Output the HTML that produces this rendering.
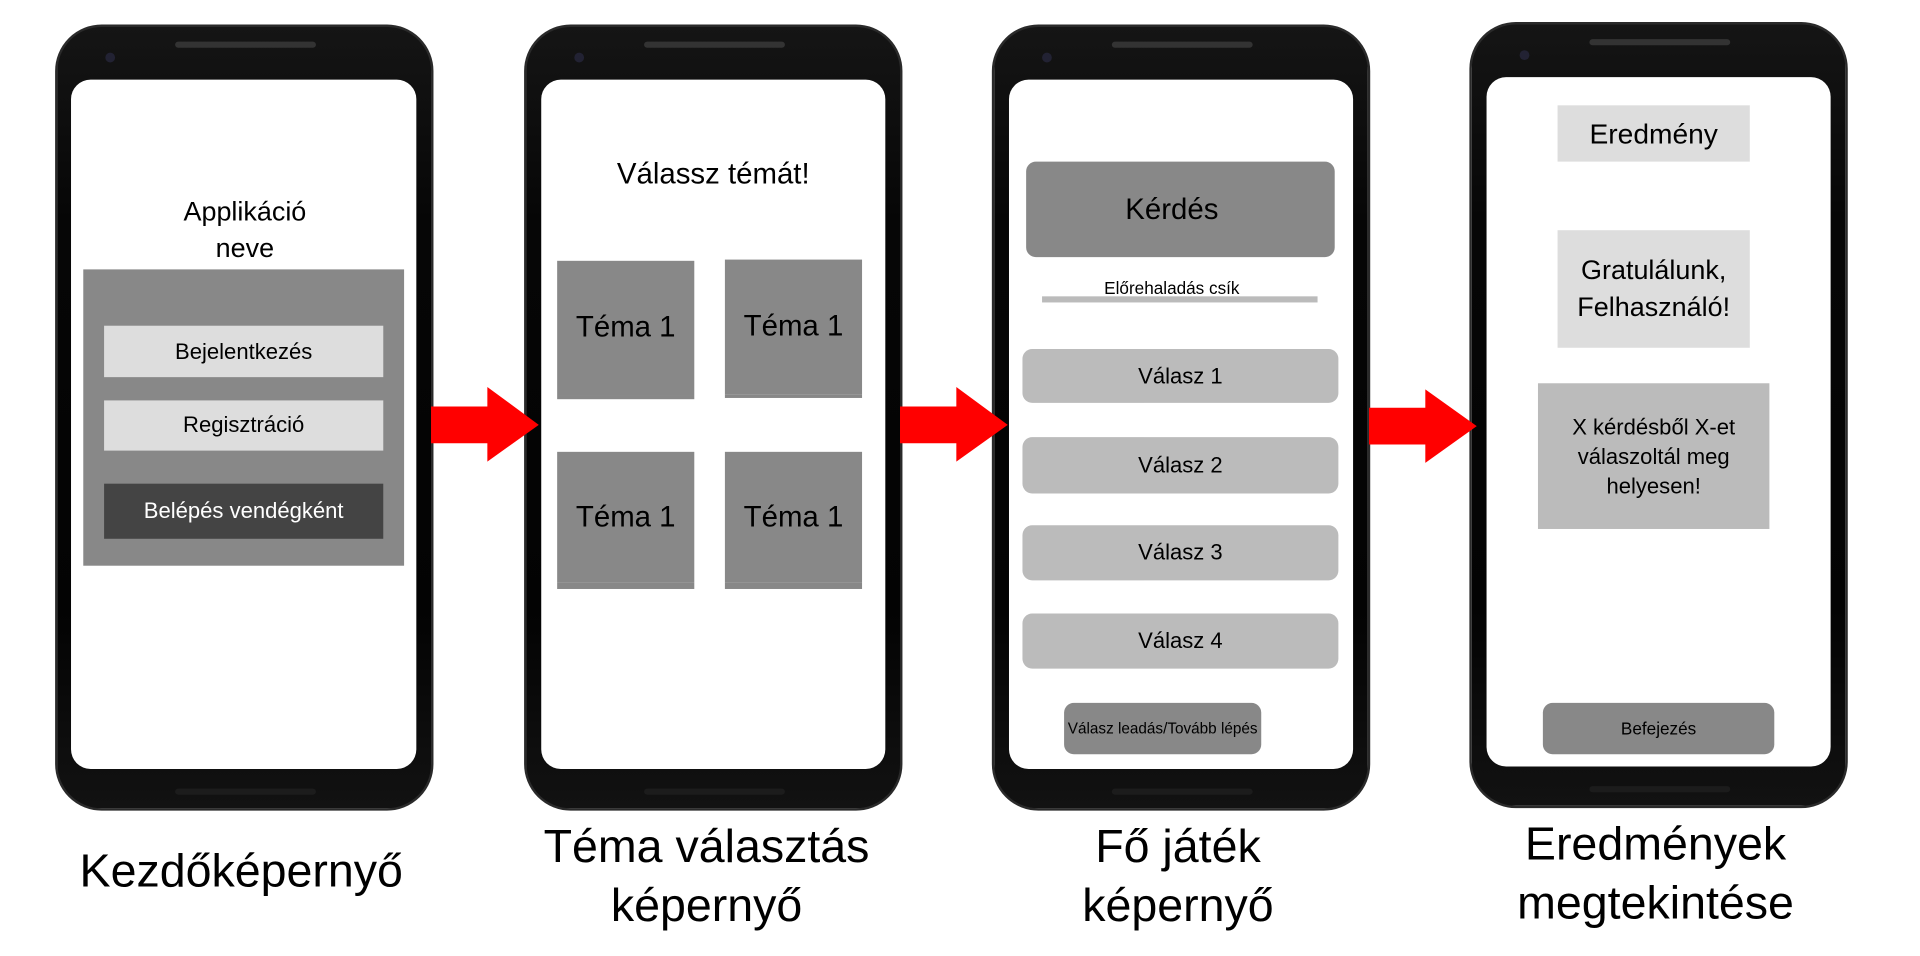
<!DOCTYPE html>
<html><head><meta charset="utf-8"><style>
html,body{margin:0;padding:0;background:#fff;width:1920px;height:956px;overflow:hidden}
#w{position:absolute;left:0;top:0;width:1568px;height:781px;transform:scale(1.2245);transform-origin:0 0;font-family:"Liberation Sans",sans-serif}
.a{position:absolute;box-sizing:border-box}
.ph{background:linear-gradient(#151515,#060606 25%,#030303 75%,#121212);border-radius:38px;border:2px solid #2a2a2a}
.sc{background:#fff;border-radius:16px}
.sp{height:5px;border-radius:3px;background:#333}
.cam{width:8px;height:8px;border-radius:50%;background:#223}
.t{display:flex;align-items:center;justify-content:center;text-align:center;color:#000}
.cap{position:absolute;text-align:center;font-size:38px;line-height:48px;color:#000}
</style></head><body><div id="w">

<div class="a ph" style="left:45px;top:20px;width:309px;height:642px"></div>
<div class="a ph" style="left:428px;top:20px;width:309px;height:642px"></div>
<div class="a ph" style="left:810px;top:20px;width:309px;height:642px"></div>
<div class="a ph" style="left:1200px;top:18px;width:309px;height:642px"></div>
<div class="a sp" style="left:143px;top:34px;width:115px"></div>
<div class="a sp" style="left:526px;top:34px;width:115px"></div>
<div class="a sp" style="left:908px;top:34px;width:115px"></div>
<div class="a sp" style="left:1298px;top:32px;width:115px"></div>
<div class="a sp" style="left:143px;top:644px;width:115px;background:#1c1c1c"></div>
<div class="a sp" style="left:526px;top:644px;width:115px;background:#1c1c1c"></div>
<div class="a sp" style="left:908px;top:644px;width:115px;background:#1c1c1c"></div>
<div class="a sp" style="left:1298px;top:642px;width:115px;background:#1c1c1c"></div>
<div class="a cam" style="left:86px;top:43px"></div>
<div class="a cam" style="left:469px;top:43px"></div>
<div class="a cam" style="left:851px;top:43px"></div>
<div class="a cam" style="left:1241px;top:41px"></div>
<div class="a sc" style="left:58px;top:65px;width:282px;height:563px"></div>
<div class="a sc" style="left:442px;top:65px;width:281px;height:563px"></div>
<div class="a sc" style="left:824px;top:65px;width:281px;height:563px"></div>
<div class="a sc" style="left:1214px;top:63px;width:281px;height:563px"></div>

<svg class="a" style="left:0;top:0" width="1568" height="781">
<polygon fill="#f00" points="352,332 398,332 398,316 440,347 398,377 398,362 352,362"/>
<polygon fill="#f00" points="735,332 781,332 781,316 823,347 781,377 781,362 735,362"/>
<polygon fill="#f00" points="1118,333 1164,333 1164,318 1206,348 1164,378 1164,363 1118,363"/>
</svg>

<div class="a t" style="left:58px;top:158px;width:284px;font-size:22px;line-height:30px">Applikáció<br>neve</div>
<div class="a" style="left:68px;top:220px;width:262px;height:242px;background:#888"></div>
<div class="a t" style="left:85px;top:266px;width:228px;height:42px;background:#ddd;font-size:18px">Bejelentkezés</div>
<div class="a t" style="left:85px;top:327px;width:228px;height:41px;background:#ddd;font-size:18px">Regisztráció</div>
<div class="a t" style="left:85px;top:395px;width:228px;height:45px;background:#444;color:#fff;font-size:18px">Belépés vendégként</div>

<div class="a t" style="left:442px;top:128px;width:281px;height:30px;font-size:24px">Válassz témát!</div>
<div class="a t" style="left:455px;top:213px;width:112px;height:110px;background:#888;font-size:24px;align-items:center">Téma 1</div>
<div class="a t" style="left:592px;top:212px;width:112px;height:110px;background:#888;font-size:24px">Téma 1</div>
<div class="a t" style="left:455px;top:369px;width:112px;height:107px;background:#888;font-size:24px">Téma 1</div>
<div class="a t" style="left:592px;top:369px;width:112px;height:107px;background:#888;font-size:24px">Téma 1</div>
<div class="a" style="left:455px;top:323px;width:112px;height:3px;background:#888"></div>
<div class="a" style="left:592px;top:322px;width:112px;height:3px;background:#888"></div>
<div class="a" style="left:455px;top:476px;width:112px;height:5px;background:#888"></div>
<div class="a" style="left:592px;top:476px;width:112px;height:5px;background:#888"></div>

<div class="a" style="left:838px;top:132px;width:252px;height:78px;background:#888;border-radius:8px"></div>
<div class="a t" style="left:838px;top:132px;width:238px;height:80px;font-size:24px">Kérdés</div>
<div class="a t" style="left:838px;top:226px;width:238px;height:18px;font-size:14px">Előrehaladás csík</div>
<div class="a" style="left:851px;top:242px;width:225px;height:5px;background:#bbb"></div>
<div class="a t" style="left:835px;top:285px;width:258px;height:44px;background:#bbb;border-radius:8px;font-size:18px">Válasz 1</div>
<div class="a t" style="left:835px;top:357px;width:258px;height:46px;background:#bbb;border-radius:8px;font-size:18px">Válasz 2</div>
<div class="a t" style="left:835px;top:429px;width:258px;height:45px;background:#bbb;border-radius:8px;font-size:18px">Válasz 3</div>
<div class="a t" style="left:835px;top:501px;width:258px;height:45px;background:#bbb;border-radius:8px;font-size:18px">Válasz 4</div>
<div class="a t" style="left:869px;top:574px;width:161px;height:42px;background:#888;border-radius:8px;font-size:12.5px">Válasz leadás/Tovább lépés</div>

<div class="a t" style="left:1272px;top:86px;width:157px;height:46px;background:#ddd;font-size:23px">Eredmény</div>
<div class="a t" style="left:1272px;top:188px;width:157px;height:96px;background:#ddd;font-size:22px;line-height:30px">Gratulálunk,<br>Felhasználó!</div>
<div class="a t" style="left:1256px;top:313px;width:189px;height:119px;background:#bbb;font-size:18px;line-height:24px">X kérdésből X-et<br>válaszoltál meg<br>helyesen!</div>
<div class="a t" style="left:1260px;top:574px;width:189px;height:42px;background:#888;border-radius:8px;font-size:14px">Befejezés</div>

<div class="cap" style="left:47px;top:688px;width:300px">Kezdőképernyő</div>
<div class="cap" style="left:417px;top:668px;width:320px">Téma választás<br>képernyő</div>
<div class="cap" style="left:812px;top:668px;width:300px">Fő játék<br>képernyő</div>
<div class="cap" style="left:1202px;top:666px;width:300px">Eredmények<br>megtekintése</div>
</div></body></html>
